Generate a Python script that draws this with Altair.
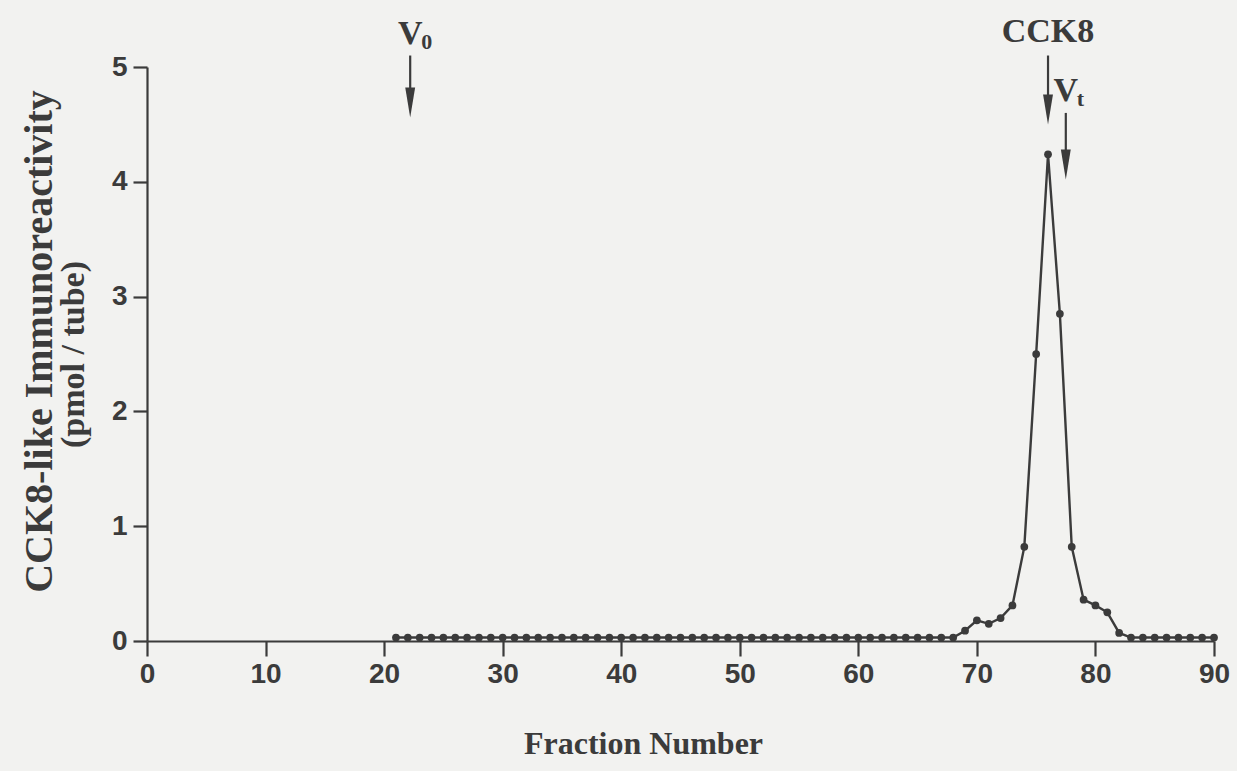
import altair as alt
import pandas as pd

# ---- data ----
fractions = list(range(21, 91))
baseline = 0.03
peak_values = {
    69: 0.09, 70: 0.18, 71: 0.15, 72: 0.20, 73: 0.31, 74: 0.82,
    75: 2.50, 76: 4.24, 77: 2.85, 78: 0.82, 79: 0.36, 80: 0.31,
    81: 0.25, 82: 0.07,
}
values = [peak_values.get(f, baseline) for f in fractions]

x_ticks = [0, 10, 20, 30, 40, 50, 60, 70, 80, 90]
y_ticks = [0, 1, 2, 3, 4, 5]

# annotation markers (fraction, label)
marker_fraction = [22.2, 76.0, 77.5]
marker_main = ["V", "CCK8", "V"]
marker_sub = ["0", "", "t"]
marker_text_y = [5.20, 5.22, 4.70]
marker_arrow_top = [5.10, 5.10, 4.60]
marker_arrow_tip = [4.56, 4.50, 4.02]

INK = "#3b3b3b"
BG = "#f2f2f0"

df = pd.DataFrame({"fraction": fractions, "value": values})

xs = alt.Scale(domain=[0, 90], nice=False, zero=False)
ys = alt.Scale(domain=[0, 5], nice=False)

x_axis = alt.Axis(
    values=x_ticks, title="Fraction Number", grid=False, format="d",
    domainColor=INK, domainWidth=2.2, tickColor=INK, tickWidth=2.2, tickSize=15,
    labelFont="Liberation Sans", labelFontWeight="bold", labelFontSize=28,
    labelColor=INK, labelPadding=4, labelFlush=False,
    titleFont="Liberation Serif", titleFontWeight="bold", titleFontSize=32,
    titleColor=INK, titlePadding=40, titleX=496, titleAlign="center",
)
y_axis = alt.Axis(
    values=y_ticks, title="CCK8-like Immunoreactivity", grid=False,
    format="d",
    domainColor=INK, domainWidth=2.2, tickColor=INK, tickWidth=2.2, tickSize=14,
    labelFont="Liberation Sans", labelFontWeight="bold", labelFontSize=28,
    labelColor=INK, labelPadding=6,
    titleFont="Liberation Serif", titleFontWeight="bold", titleFontSize=40,
    titleColor=INK,
    titleAngle=270, titleX=-108, titleY=274, titleAlign="center", titleBaseline="middle",
)
y_axis_unit = alt.Axis(
    orient="left", title="(pmol / tube)", grid=False,
    labels=False, ticks=False, domain=False,
    titleFont="Liberation Serif", titleFontWeight="bold", titleFontSize=34,
    titleColor=INK,
    titleAngle=270, titleX=-74, titleY=287, titleAlign="center", titleBaseline="middle",
)

base = alt.Chart(df)
line = base.mark_line(color=INK, strokeWidth=2.4, interpolate="linear").encode(
    x=alt.X("fraction:Q", scale=xs, axis=x_axis),
    y=alt.Y("value:Q", scale=ys, axis=y_axis),
)
pts = base.mark_circle(color=INK, opacity=1, size=60).encode(
    x=alt.X("fraction:Q", scale=xs),
    y=alt.Y("value:Q", scale=ys, axis=y_axis_unit),
)

ann = pd.DataFrame({
    "fraction": marker_fraction,
    "main": marker_main,
    "sub": marker_sub,
    "ty": marker_text_y,
    "top": marker_arrow_top,
    "tip": marker_arrow_tip,
})
ann["shaft_end"] = ann["tip"] + 0.18
ann["head"] = ann["tip"] + 0.13

ab = alt.Chart(ann)
shaft = ab.mark_rule(color=INK, strokeWidth=2.2, clip=False).encode(
    x=alt.X("fraction:Q", scale=xs),
    y=alt.Y("top:Q", scale=ys, axis=None), y2="shaft_end:Q",
)
head = ab.mark_point(
    shape="M-0.33,-1L0.33,-1L0,1Z", filled=True, color=INK, opacity=1, size=900, clip=False
).encode(
    x=alt.X("fraction:Q", scale=xs),
    y=alt.Y("head:Q", scale=ys, axis=None),
)

main_txt = ab.mark_text(
    font="Liberation Serif", fontWeight="bold", fontSize=34, color=INK,
    baseline="alphabetic", align="center", clip=False,
).encode(
    x=alt.X("fraction:Q", scale=xs),
    y=alt.Y("ty:Q", scale=ys, axis=None), text="main:N",
)

sub_txt = ab.mark_text(
    font="Liberation Serif", fontWeight="bold", fontSize=22, color=INK,
    baseline="alphabetic", align="left", dx=11, dy=5, clip=False,
).encode(
    x=alt.X("fraction:Q", scale=xs),
    y=alt.Y("ty:Q", scale=ys, axis=None), text="sub:N",
)

chart = alt.layer(line, pts, shaft, head, main_txt, sub_txt).resolve_axis(
    y="independent"
).properties(
    width=1067, height=574,
    autosize="none",
    padding={"left": 147, "top": 67, "right": 23, "bottom": 130},
    background=BG,
).configure_view(stroke=None)

chart.save("out.html", embed_options={"renderer": "svg", "actions": False})
